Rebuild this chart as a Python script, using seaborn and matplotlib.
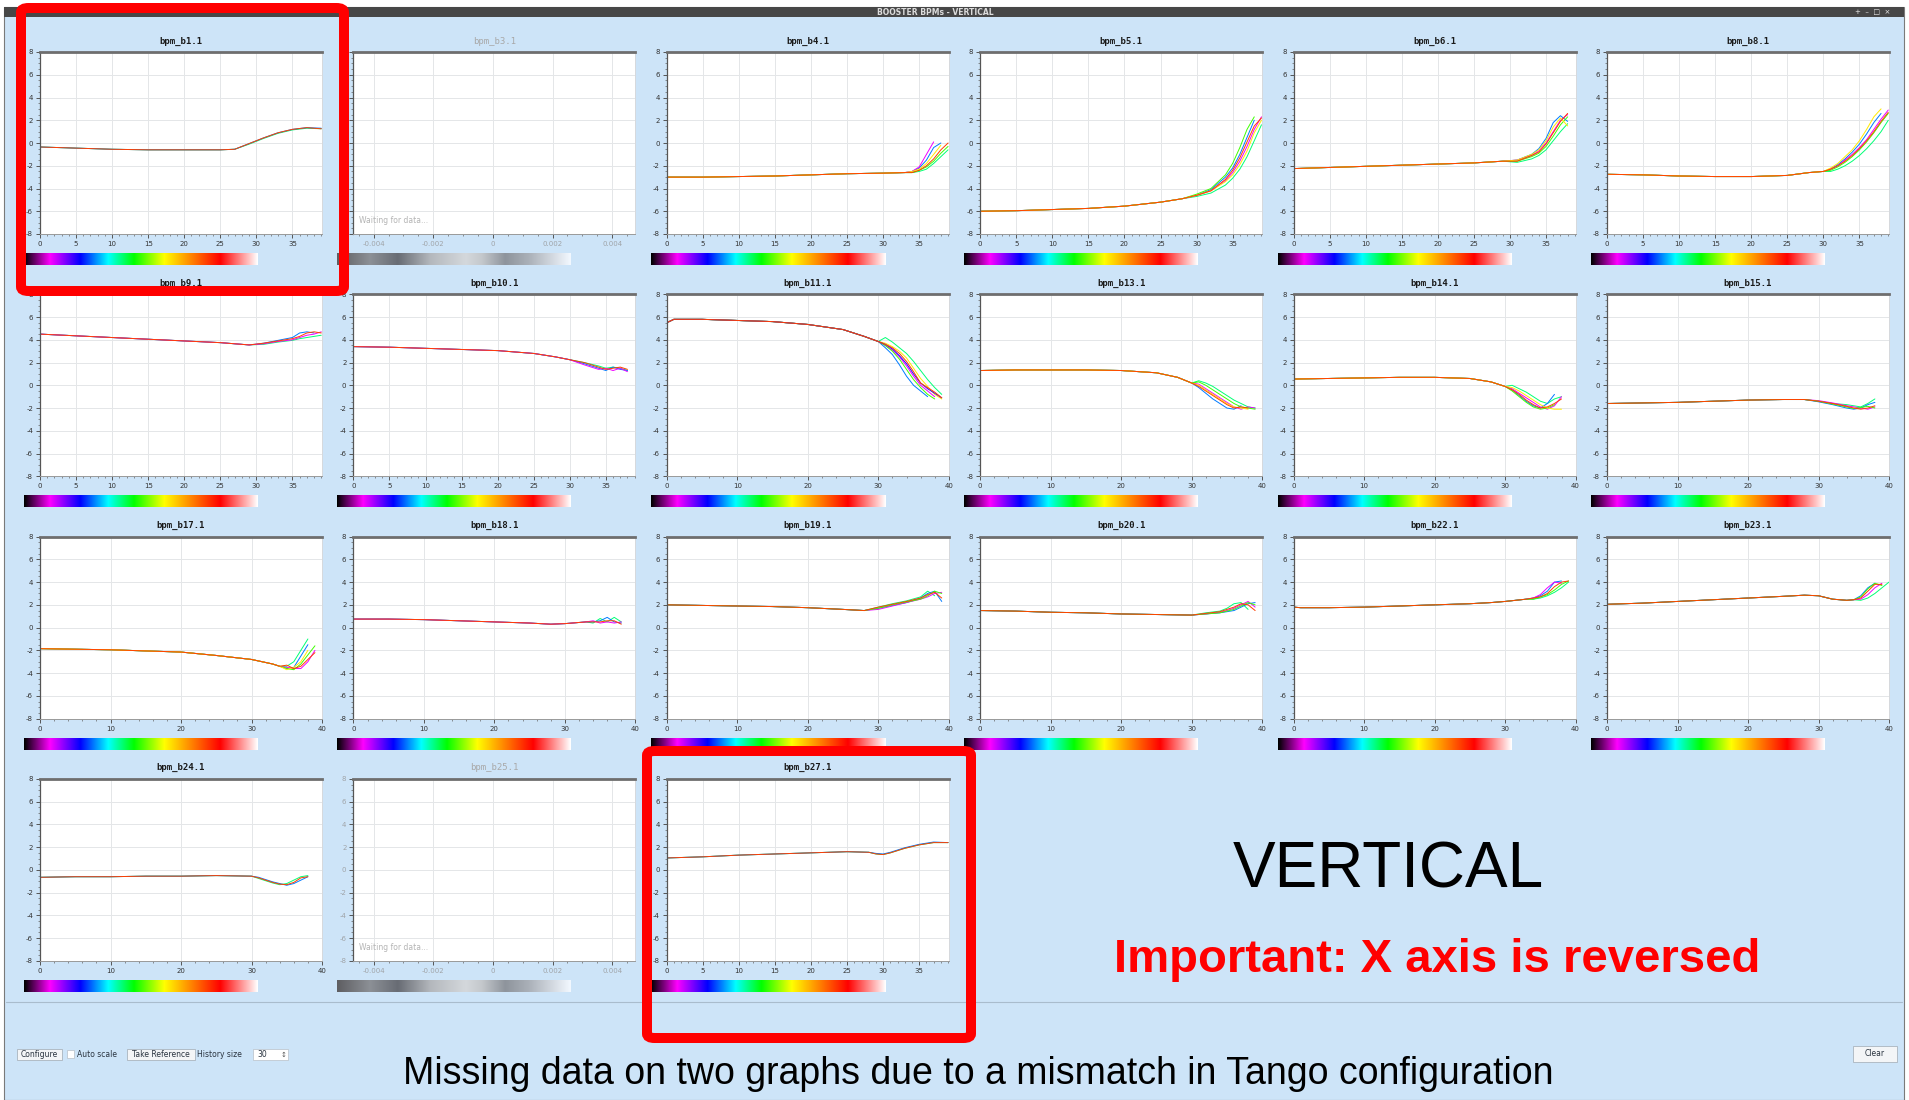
import numpy as np
import pandas as pd
import matplotlib
matplotlib.use("Agg")
import matplotlib.pyplot as plt
import seaborn as sns
from matplotlib.colors import LinearSegmentedColormap
from matplotlib.patches import Rectangle, FancyBboxPatch
from matplotlib.ticker import MultipleLocator

# ---------------------------------------------------------------- data
# Each BPM: a shared head (early turns) and a set of tails (late turns),
# one tail per acquisition in the history buffer.
B1_X = [0, 5, 10, 15, 20, 25, 27]
B1_Y = [-0.35, -0.45, -0.55, -0.6, -0.6, -0.6, -0.55]
B1_TX = [29, 31, 33, 35, 37, 39]
B1_TAILS = [[-0.1, 0.4, 0.85, 1.15, 1.3, 1.25],
            [-0.05, 0.45, 0.9, 1.2, 1.35, 1.3],
            [-0.05, 0.45, 0.9, 1.2, 1.35, 1.25]]

B4_X = [0, 5, 10, 15, 20, 25, 30, 33]
B4_Y = [-3.0, -3.0, -2.95, -2.9, -2.8, -2.7, -2.65, -2.6]
B4_TX = [34, 35, 36, 37, 38, 39]
B4_TAILS = [[-2.6, -2.5, -2.3, -1.8, -1.2, -0.6],
            [-2.5, -2.2, -1.5, -0.4, 0.0, None],
            [-2.5, -2.1, -1.0, 0.1, None, None],
            [-2.6, -2.4, -2.1, -1.6, -0.9, -0.3],
            [-2.5, -2.3, -1.8, -1.0, -0.2, None],
            [-2.6, -2.4, -2.0, -1.4, -0.6, 0.0]]

B5_X = [0, 5, 10, 15, 20, 25, 28]
B5_Y = [-6.0, -5.95, -5.85, -5.75, -5.55, -5.2, -4.9]
B5_TX = [30, 32, 34, 35, 36, 37, 38, 39]
B5_TAILS = [[-4.7, -4.4, -3.7, -3.1, -2.3, -1.2, 0.2, 1.6],
            [-4.6, -4.1, -3.0, -2.2, -1.0, 0.5, 2.0, None],
            [-4.6, -4.2, -3.3, -2.6, -1.6, -0.3, 1.2, 2.3],
            [-4.5, -4.0, -2.8, -1.8, -0.4, 1.2, 2.3, None],
            [-4.6, -4.2, -3.4, -2.8, -1.9, -0.7, 0.9, 2.0],
            [-4.6, -4.2, -3.2, -2.4, -1.3, 0.1, 1.5, 2.2]]

B6_X = [0, 5, 10, 15, 20, 25, 29]
B6_Y = [-2.25, -2.15, -2.05, -1.95, -1.85, -1.75, -1.6]
B6_TX = [31, 33, 34, 35, 36, 37, 38]
B6_TAILS = [[-1.7, -1.4, -1.1, -0.6, 0.2, 1.0, 1.7],
            [-1.5, -1.0, -0.5, 0.4, 1.8, 2.4, 1.9],
            [-1.5, -1.1, -0.7, 0.0, 1.0, 2.0, 2.5],
            [-1.6, -1.2, -0.9, -0.3, 0.6, 1.6, 2.3],
            [-1.5, -1.0, -0.6, 0.2, 1.4, 2.2, 1.5],
            [-1.6, -1.1, -0.8, -0.1, 0.9, 1.9, 2.6]]

B8_X = [0, 5, 10, 15, 20, 25, 28, 30]
B8_Y = [-2.75, -2.8, -2.9, -2.95, -2.95, -2.85, -2.6, -2.5]
B8_TX = [31, 32, 33, 34, 35, 36, 37, 38, 39]
B8_TAILS = [[-2.5, -2.3, -2.0, -1.6, -1.1, -0.5, 0.2, 1.0, 2.0],
            [-2.3, -1.9, -1.4, -0.8, -0.1, 0.8, 1.8, 2.6, None],
            [-2.3, -2.0, -1.5, -1.0, -0.4, 0.3, 1.2, 2.1, 2.9],
            [-2.4, -2.1, -1.7, -1.2, -0.6, 0.1, 0.9, 1.8, 2.6],
            [-2.2, -1.8, -1.2, -0.6, 0.2, 1.2, 2.3, 3.0, None],
            [-2.3, -2.0, -1.6, -1.1, -0.5, 0.2, 1.0, 1.9, 2.7]]

B9_X = [0, 5, 10, 15, 20, 25, 29]
B9_Y = [4.5, 4.35, 4.2, 4.05, 3.9, 3.75, 3.55]
B9_TX = [31, 33, 35, 36, 37, 38, 39]
B9_TAILS = [[3.6, 3.8, 3.95, 4.1, 4.2, 4.3, 4.4],
            [3.7, 3.95, 4.2, 4.6, 4.7, 4.6, None],
            [3.65, 3.85, 4.0, 4.2, 4.4, 4.5, 4.7],
            [3.7, 3.9, 4.1, 4.3, 4.6, 4.7, 4.6]]

B10_X = [0, 5, 10, 15, 20, 25, 28, 30]
B10_Y = [3.4, 3.35, 3.25, 3.15, 3.05, 2.8, 2.5, 2.25]
B10_TX = [32, 34, 35, 36, 37, 38]
B10_TAILS = [[2.0, 1.7, 1.5, 1.6, 1.5, 1.3],
             [1.9, 1.5, 1.3, 1.6, 1.4, 1.3],
             [1.8, 1.4, 1.5, 1.3, 1.5, 1.2],
             [2.0, 1.6, 1.4, 1.5, 1.6, 1.4]]

B11_X = [0, 1, 5, 10, 15, 20, 25, 28, 30]
B11_Y = [5.5, 5.8, 5.8, 5.7, 5.6, 5.35, 4.9, 4.3, 3.85]
B11_TX = [31, 32, 33, 34, 35, 36, 37, 38, 39]
B11_TAILS = [[4.2, 3.8, 3.3, 2.8, 2.1, 1.3, 0.5, -0.2, -0.8],
             [3.3, 2.7, 1.8, 0.8, 0.0, -0.5, -1.0, None, None],
             [3.5, 3.1, 2.5, 1.7, 0.8, 0.0, -0.5, -1.0, None],
             [3.5, 3.0, 2.3, 1.4, 0.5, -0.2, -0.8, -1.2, None],
             [3.7, 3.4, 3.0, 2.4, 1.5, 0.6, -0.1, -0.8, -1.2],
             [3.6, 3.2, 2.6, 1.9, 1.0, 0.2, -0.3, -0.7, -1.1],
             [3.6, 3.3, 2.8, 2.1, 1.2, 0.2, -0.2, -0.6, -1.1]]

B13_X = [0, 5, 10, 15, 20, 25, 28, 30]
B13_Y = [1.3, 1.35, 1.35, 1.35, 1.3, 1.1, 0.7, 0.2]
B13_TX = [31, 32, 33, 34, 35, 36, 37, 38, 39]
B13_TAILS = [[0.4, 0.2, -0.1, -0.5, -0.9, -1.3, -1.6, -1.9, -2.0],
             [-0.2, -0.7, -1.2, -1.6, -2.0, -2.1, -1.8, None, None],
             [0.1, -0.3, -0.7, -1.1, -1.5, -1.9, -2.1, -1.9, -2.0],
             [0.3, 0.0, -0.4, -0.8, -1.2, -1.6, -1.9, -2.0, -2.1],
             [0.0, -0.4, -0.8, -1.2, -1.6, -1.9, -2.0, -2.1, None],
             [-0.1, -0.5, -0.9, -1.3, -1.7, -2.0, -1.9, -2.0, None]]

B14_X = [0, 5, 10, 15, 20, 25, 28, 30]
B14_Y = [0.55, 0.6, 0.65, 0.7, 0.7, 0.6, 0.3, -0.1]
B14_TX = [31, 32, 33, 34, 35, 36, 37, 38]
B14_TAILS = [[0.0, -0.3, -0.6, -1.0, -1.4, -1.6, -1.2, -1.0],
             [-0.4, -0.9, -1.4, -1.8, -2.0, -1.6, -0.8, None],
             [-0.3, -0.7, -1.1, -1.5, -1.9, -2.1, -1.8, -1.0],
             [-0.5, -1.0, -1.5, -1.9, -2.1, -2.0, -1.7, None],
             [-0.2, -0.5, -0.9, -1.3, -1.7, -2.0, -2.1, -2.1],
             [-0.4, -0.8, -1.3, -1.7, -2.0, -1.9, -1.6, -1.2]]

B15_X = [0, 5, 10, 15, 20, 25, 28]
B15_Y = [-1.6, -1.55, -1.5, -1.4, -1.3, -1.25, -1.25]
B15_TX = [30, 32, 34, 35, 36, 37, 38]
B15_TAILS = [[-1.4, -1.6, -1.7, -1.8, -1.9, -1.6, -1.2],
             [-1.45, -1.7, -2.0, -2.1, -2.0, -1.7, -1.5],
             [-1.35, -1.55, -1.8, -1.9, -2.0, -2.1, -1.9],
             [-1.4, -1.65, -1.9, -2.05, -1.95, -1.85, -2.0],
             [-1.4, -1.6, -1.85, -2.0, -2.1, -2.0, -1.8]]

B17_X = [0, 5, 10, 15, 20, 25, 30, 33, 34]
B17_Y = [-1.85, -1.9, -1.95, -2.05, -2.15, -2.45, -2.8, -3.2, -3.4]
B17_TX = [35, 36, 37, 38, 39]
B17_TAILS = [[-3.4, -3.0, -2.0, -1.0, None],
             [-3.6, -3.5, -2.5, -1.5, None],
             [-3.5, -3.6, -3.6, -3.0, -2.0],
             [-3.6, -3.7, -3.2, -2.4, -1.6],
             [-3.7, -3.5, -3.0, -2.0, None],
             [-3.3, -3.6, -3.4, -2.8, -2.2]]

B18_X = [0, 5, 10, 15, 20, 25, 28, 30, 33]
B18_Y = [0.75, 0.75, 0.7, 0.6, 0.5, 0.4, 0.3, 0.35, 0.5]
B18_TX = [34, 35, 36, 37, 38]
B18_TAILS = [[0.4, 0.8, 0.5, 0.9, 0.5],
             [0.5, 0.6, 0.9, 0.5, 0.4],
             [0.6, 0.4, 0.5, 0.4, 0.5],
             [0.5, 0.5, 0.6, 0.6, 0.3]]

B19_X = [0, 5, 10, 15, 20, 25, 28]
B19_Y = [2.0, 1.95, 1.9, 1.85, 1.75, 1.6, 1.5]
B19_TX = [30, 32, 34, 36, 37, 38, 39]
B19_TAILS = [[1.8, 2.1, 2.35, 2.7, 3.2, 2.8, None],
             [1.7, 1.95, 2.2, 2.6, 3.0, 3.2, 2.3],
             [1.6, 1.9, 2.2, 2.5, 2.7, 3.0, 3.1],
             [1.7, 2.0, 2.25, 2.5, 2.8, 3.2, 3.0],
             [1.8, 2.05, 2.3, 2.6, 2.9, 3.1, 2.6]]

B20_X = [0, 5, 10, 15, 20, 25, 30]
B20_Y = [1.5, 1.45, 1.35, 1.3, 1.2, 1.15, 1.1]
B20_TX = [32, 34, 35, 36, 37, 38, 39]
B20_TAILS = [[1.3, 1.45, 1.7, 2.1, 2.2, 1.6, None],
             [1.2, 1.3, 1.4, 1.5, 1.8, 2.1, 2.2],
             [1.2, 1.35, 1.5, 1.7, 2.0, 2.3, 1.8],
             [1.2, 1.3, 1.45, 1.6, 1.9, 2.2, 2.0],
             [1.25, 1.4, 1.6, 1.8, 2.1, 2.0, 1.5]]

B22_X = [0, 1, 5, 10, 15, 20, 25, 28, 30, 33]
B22_Y = [1.8, 1.75, 1.75, 1.8, 1.9, 2.0, 2.1, 2.2, 2.3, 2.5]
B22_TX = [34, 35, 36, 37, 38, 39]
B22_TAILS = [[2.5, 2.6, 2.8, 3.1, 3.5, 4.0],
             [2.6, 2.8, 3.2, 4.0, 4.1, None],
             [2.6, 2.9, 3.5, 4.0, 3.9, None],
             [2.5, 2.7, 2.9, 3.3, 3.8, 4.1],
             [2.6, 2.7, 3.0, 3.6, 4.0, 4.1]]

B23_X = [0, 5, 10, 15, 20, 25, 28, 30, 32, 34, 35]
B23_Y = [2.05, 2.15, 2.3, 2.45, 2.6, 2.75, 2.85, 2.8, 2.5, 2.4, 2.45]
B23_TX = [36, 37, 38, 39, 40]
B23_TAILS = [[2.4, 2.6, 3.0, 3.5, 4.0],
             [2.8, 3.5, 3.9, None, None],
             [2.5, 2.9, 3.5, 3.9, None],
             [2.7, 3.4, 3.9, 3.7, None],
             [2.6, 3.2, 3.8, 3.8, None]]

B24_X = [0, 5, 10, 15, 20, 25, 30]
B24_Y = [-0.65, -0.6, -0.6, -0.55, -0.55, -0.5, -0.55]
B24_TX = [31, 32, 33, 34, 35, 36, 37, 38]
B24_TAILS = [[-0.75, -0.95, -1.15, -1.3, -1.2, -0.9, -0.6, -0.5],
             [-0.65, -0.85, -1.05, -1.2, -1.35, -1.2, -0.9, -0.6],
             [-0.7, -0.9, -1.1, -1.25, -1.3, -1.1, -0.7, -0.6]]

B27_X = [0, 5, 10, 15, 20, 25, 28]
B27_Y = [1.05, 1.15, 1.3, 1.4, 1.5, 1.6, 1.55]
B27_TX = [29, 30, 31, 33, 35, 37, 39]
B27_TAILS = [[1.4, 1.35, 1.5, 1.9, 2.2, 2.4, 2.4],
             [1.45, 1.4, 1.55, 1.95, 2.25, 2.45, 2.4],
             [1.4, 1.35, 1.5, 1.9, 2.2, 2.4, 2.4]]

# panel grid (row by row)
LAYOUT = [
    ["bpm_b1.1", "bpm_b3.1", "bpm_b4.1", "bpm_b5.1", "bpm_b6.1", "bpm_b8.1"],
    ["bpm_b9.1", "bpm_b10.1", "bpm_b11.1", "bpm_b13.1", "bpm_b14.1", "bpm_b15.1"],
    ["bpm_b17.1", "bpm_b18.1", "bpm_b19.1", "bpm_b20.1", "bpm_b22.1", "bpm_b23.1"],
    ["bpm_b24.1", "bpm_b25.1", "bpm_b27.1"],
]
FINE_AXIS = {"bpm_b1.1", "bpm_b4.1", "bpm_b5.1", "bpm_b6.1", "bpm_b8.1",
             "bpm_b9.1", "bpm_b10.1", "bpm_b27.1"}
EMPTY = {"bpm_b3.1", "bpm_b25.1"}

SERIES = {
    "bpm_b1.1": (B1_X, B1_Y, B1_TX, B1_TAILS),
    "bpm_b4.1": (B4_X, B4_Y, B4_TX, B4_TAILS),
    "bpm_b5.1": (B5_X, B5_Y, B5_TX, B5_TAILS),
    "bpm_b6.1": (B6_X, B6_Y, B6_TX, B6_TAILS),
    "bpm_b8.1": (B8_X, B8_Y, B8_TX, B8_TAILS),
    "bpm_b9.1": (B9_X, B9_Y, B9_TX, B9_TAILS),
    "bpm_b10.1": (B10_X, B10_Y, B10_TX, B10_TAILS),
    "bpm_b11.1": (B11_X, B11_Y, B11_TX, B11_TAILS),
    "bpm_b13.1": (B13_X, B13_Y, B13_TX, B13_TAILS),
    "bpm_b14.1": (B14_X, B14_Y, B14_TX, B14_TAILS),
    "bpm_b15.1": (B15_X, B15_Y, B15_TX, B15_TAILS),
    "bpm_b17.1": (B17_X, B17_Y, B17_TX, B17_TAILS),
    "bpm_b18.1": (B18_X, B18_Y, B18_TX, B18_TAILS),
    "bpm_b19.1": (B19_X, B19_Y, B19_TX, B19_TAILS),
    "bpm_b20.1": (B20_X, B20_Y, B20_TX, B20_TAILS),
    "bpm_b22.1": (B22_X, B22_Y, B22_TX, B22_TAILS),
    "bpm_b23.1": (B23_X, B23_Y, B23_TX, B23_TAILS),
    "bpm_b24.1": (B24_X, B24_Y, B24_TX, B24_TAILS),
    "bpm_b27.1": (B27_X, B27_Y, B27_TX, B27_TAILS),
}

# ---------------------------------------------------------------- style
sns.set_theme(style="white")
plt.rcParams["font.family"] = ["DejaVu Sans"]
plt.rcParams["axes.unicode_minus"] = False

W, H = 1909, 1100
BG = "#cde4f8"

HISTORY = LinearSegmentedColormap.from_list("history", [
    (0.00, "#000000"), (0.11, "#ff00ff"), (0.24, "#0000ff"), (0.36, "#00ffff"),
    (0.47, "#00ff00"), (0.60, "#ffff00"), (0.72, "#ff8000"), (0.84, "#ff0000"),
    (1.00, "#ffffff")])
DISABLED = LinearSegmentedColormap.from_list("disabled", [
    (0.00, "#5e5e62"), (0.14, "#8c9096"), (0.26, "#686c74"), (0.40, "#b4b8bd"),
    (0.55, "#d4d8dc"), (0.62, "#c4c8cc"), (0.72, "#8e949c"), (0.82, "#aab0b8"),
    (1.00, "#f2f8ff")])
TRACE_TONES = [0.42, 0.30, 0.12, 0.50, 0.62, 0.22, 0.05, 0.78]

fig = plt.figure(figsize=(W / 100, H / 100), dpi=100)
fig.patch.set_facecolor("white")


def rect_px(x0, y0, x1, y1):
    return (x0 / W, 1 - y1 / H), (x1 - x0) / W, (y1 - y0) / H


def add_rect(x0, y0, x1, y1, z=-5, **kw):
    xy, w, h = rect_px(x0, y0, x1, y1)
    fig.add_artist(Rectangle(xy, w, h, transform=fig.transFigure, zorder=z, **kw))


def ftext(x, y, s, **kw):
    fig.text(x / W, 1 - y / H, s, **kw)


# window frame, title bar
add_rect(4, 7, 1904, 1100, z=-10, facecolor=BG, edgecolor="#7a7a7a", lw=0.8)
add_rect(4, 7, 1904, 17, z=-9, facecolor="#474747", edgecolor="none")
ftext(935, 12.5, "BOOSTER BPMs - VERTICAL", ha="center", va="center",
      fontsize=5.5, color="#dcdcdc", fontweight="bold")
ftext(1890, 12.5, "+  \u2013  \u25a1  \u00d7", ha="right", va="center",
      fontsize=5, color="#e8e8e8")
fig.add_artist(plt.Line2D([6 / W, 1902 / W], [1 - 1002 / H] * 2,
                          transform=fig.transFigure, color="#a9bccd", lw=0.8, zorder=-8))

# ---------------------------------------------------------------- panels
PLOT_W, PLOT_H = 282, 182
COL_LEFT = [40 + 313.4 * i for i in range(6)]
ROW_TOP = [52 + 242.3 * j for j in range(4)]


def style_panel(ax, name, disabled):
    ax.set_facecolor("white")
    ax.set_ylim(-8, 8)
    ax.set_yticks(range(-8, 9, 2))
    ax.yaxis.set_minor_locator(MultipleLocator(0.5))
    if name in EMPTY:
        ax.set_xlim(-0.00468, 0.00478)
        ax.set_xticks([-0.004, -0.002, 0, 0.002, 0.004])
        ax.set_xticklabels(["-0.004", "-0.002", "0", "0.002", "0.004"])
        ax.xaxis.set_minor_locator(MultipleLocator(0.0005))
    elif name in FINE_AXIS:
        ax.set_xlim(0, 39.1)
        ax.set_xticks(range(0, 36, 5))
        ax.xaxis.set_minor_locator(MultipleLocator(1))
    else:
        ax.set_xlim(0, 40)
        ax.set_xticks(range(0, 41, 10))
        ax.xaxis.set_minor_locator(MultipleLocator(2))
    lab = "#a0a4a8" if disabled else "#333333"
    ax.grid(True, which="major", color="#e4e6e8", lw=0.7)
    ax.tick_params(which="major", direction="out", length=3, width=0.7,
                   labelsize=5, colors="#555555", labelcolor=lab, pad=2)
    ax.tick_params(which="minor", direction="out", length=1.6, width=0.5,
                   colors="#666666")
    ax.tick_params(left=True, bottom=True, which="both")
    ax.spines["top"].set_color("#6e6e6e")
    ax.spines["top"].set_linewidth(2.0)
    ax.spines["left"].set_color("#555555")
    ax.spines["left"].set_linewidth(0.9)
    ax.spines["bottom"].set_color("#9a9a9a")
    ax.spines["bottom"].set_linewidth(0.7)
    ax.spines["right"].set_color("#d8d8d8")
    ax.spines["right"].set_linewidth(0.6)
    ax.set_xlabel("")
    ax.set_ylabel("")


for r, row in enumerate(LAYOUT):
    for c, name in enumerate(row):
        left, top = COL_LEFT[c], ROW_TOP[r]
        xy, w, h = rect_px(left, top, left + PLOT_W, top + PLOT_H)
        ax = fig.add_axes([xy[0], xy[1], w, h])
        disabled = name in EMPTY
        if not disabled:
            hx, hy, tx, tails = SERIES[name]
            n = len(tails)
            tones = TRACE_TONES[:n - 1] + [TRACE_TONES[-1]]
            frames = []
            for k, tail in enumerate(tails):
                xs = list(hx) + list(tx)
                ys = np.array(list(hy) + [np.nan if v is None else v for v in tail],
                              dtype=float)
                frames.append(pd.DataFrame({"turn": xs, "pos": ys, "acq": k}))
            df = pd.concat(frames).dropna()
            sns.lineplot(data=df, x="turn", y="pos", hue="acq",
                         palette=[HISTORY(t) for t in tones], estimator=None,
                         sort=False, lw=0.7, legend=False, ax=ax)
        else:
            ax.text(0.02, 0.05, "Waiting for data...", transform=ax.transAxes,
                    fontsize=5.5, color="#b4b4b4", ha="left", va="bottom")
        style_panel(ax, name, disabled)

        ftext(left + PLOT_W / 2, top - 11, name, ha="center", va="center",
              fontsize=6.5, family="DejaVu Sans Mono",
              fontweight="normal" if disabled else "bold",
              color="#a8a8a8" if disabled else "#1a1a1a")

        # history colour scale beneath the plot
        cxy, cw, ch = rect_px(left - 16, top + PLOT_H + 19, left - 16 + 234, top + PLOT_H + 31)
        cax = fig.add_axes([cxy[0], cxy[1], cw, ch])
        cax.imshow(np.linspace(0, 1, 256)[None, :], aspect="auto",
                   cmap=DISABLED if disabled else HISTORY)
        cax.set_axis_off()

# ---------------------------------------------------------------- annotations
ftext(1388, 870, "VERTICAL", ha="center", va="center", fontsize=46,
      family="Liberation Sans", color="black")
ftext(1437, 960, "Important: X axis is reversed", ha="center", va="center",
      fontsize=34, family="Liberation Sans", fontweight="bold", color="#ff0000")
ftext(978, 1074, "Missing data on two graphs due to a mismatch in Tango configuration",
      ha="center", va="center", fontsize=27, family="Liberation Sans", color="black")

for (x0, y0, x1, y1) in [(21, 8, 344, 291), (647, 751, 971, 1038)]:
    xy, w, h = rect_px(x0, y0, x1, y1)
    fig.add_artist(FancyBboxPatch(xy, w, h, boxstyle="round,pad=0,rounding_size=0.004",
                                  transform=fig.transFigure, facecolor="none",
                                  edgecolor="#ff0000", lw=7.2, zorder=20))

# control bar
for (x0, x1, label) in [(17, 62, "Configure"), (127, 195, "Take Reference")]:
    add_rect(x0, 1049, x1, 1060, z=-4, facecolor="#f3f5f7", edgecolor="#aab4be", lw=0.6)
    ftext((x0 + x1) / 2, 1054.5, label, ha="center", va="center", fontsize=5.5,
          color="#2a3440")
add_rect(67, 1050, 74, 1058, z=-4, facecolor="white", edgecolor="#b8c0c8", lw=0.5)
ftext(77, 1054.5, "Auto scale", ha="left", va="center", fontsize=5.5, color="#2a3440")
ftext(197, 1054.5, "History size", ha="left", va="center", fontsize=5.5, color="#2a3440")
add_rect(253, 1049, 288, 1060, z=-4, facecolor="white", edgecolor="#b8c0c8", lw=0.5)
ftext(257, 1054.5, "30", ha="left", va="center", fontsize=5.5, color="#2a3440")
ftext(284, 1054.5, "\u2195", ha="center", va="center", fontsize=5, color="#555555")
add_rect(1853, 1046, 1897, 1062, z=-4, facecolor="#f3f5f7", edgecolor="#aab4be", lw=0.6)
ftext(1875, 1054, "Clear", ha="center", va="center", fontsize=5.5, color="#2a3440")

fig.savefig("out.png", dpi=100, facecolor=fig.get_facecolor())
